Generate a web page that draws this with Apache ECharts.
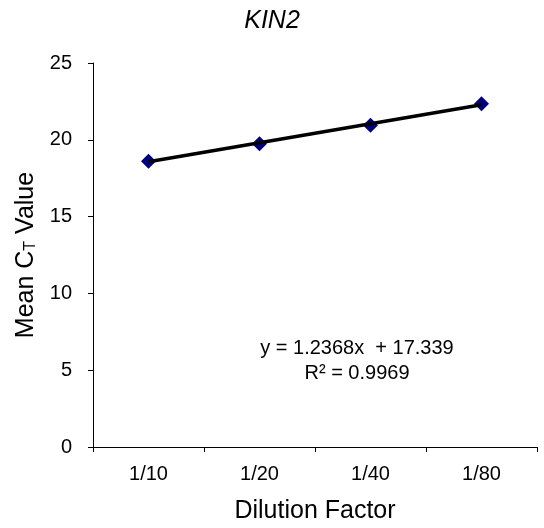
<!DOCTYPE html>
<html><head><meta charset="utf-8">
<script src="https://cdn.jsdelivr.net/npm/echarts@6/dist/echarts.min.js"></script>
<style>html,body{margin:0;padding:0;background:#fff}#c{width:544px;height:528px}</style>
</head><body><div id="c"></div>
<script>
var categories = ['1/10', '1/20', '1/40', '1/80'];
var meanCt = [18.6, 19.75, 20.95, 22.35];
var trendValues = [18.576, 19.813, 21.049, 22.286];
var yTicks = [0, 5, 10, 15, 20, 25];
var equationText = 'y = 1.2368x  + 17.339';
var r2Text = 'R² = 0.9969';

var chart = echarts.init(document.getElementById('c'));
var font = '"Liberation Sans", Arial, sans-serif';
chart.setOption({
  animation: false,
  textStyle: { fontFamily: font },
  title: {
    text: 'KIN2', left: 'center', top: 4,
    textStyle: { fontFamily: font, fontStyle: 'italic', fontWeight: 'normal', fontSize: 25, color: '#000' }
  },
  grid: { left: 93, right: 7, top: 63, bottom: 81, containLabel: false, outerBoundsMode: 'none' },
  xAxis: {
    type: 'category', data: categories, boundaryGap: true,
    name: 'Dilution Factor', nameLocation: 'middle', nameGap: 52,
    nameTextStyle: { fontFamily: font, fontSize: 25, color: '#000' },
    axisLine: { lineStyle: { color: '#000', width: 1 } },
    axisTick: { show: true, length: 5, inside: false, lineStyle: { color: '#000' } },
    axisLabel: { fontFamily: font, fontSize: 20, color: '#000', margin: 17 }
  },
  yAxis: {
    type: 'value', min: yTicks[0], max: yTicks[yTicks.length - 1], interval: 5,
    name: 'Mean C{sub|T} Value', nameLocation: 'middle', nameGap: 52,
    nameTextStyle: {
      fontFamily: font, fontSize: 25, color: '#000',
      rich: { sub: { fontFamily: font, fontSize: 16, color: '#000', padding: [10, 0, 0, 0] } }
    },
    splitLine: { show: false },
    axisLine: { show: true, lineStyle: { color: '#000', width: 1 } },
    axisTick: { show: true, length: 5, lineStyle: { color: '#000' } },
    axisLabel: { fontFamily: font, fontSize: 20, color: '#000', margin: 21 }
  },
  graphic: [{
    type: 'text', x: 357, y: 336,
    style: { text: equationText + '\n' + r2Text, fontFamily: font, fontSize: 20, lineHeight: 25, fill: '#000', align: 'center' }
  }],
  series: [{
    type: 'line', data: meanCt, symbol: 'diamond', symbolSize: 15,
    lineStyle: { width: 0 }, itemStyle: { color: '#000080' }, z: 2
  }, {
    type: 'line', data: trendValues, symbol: 'none',
    lineStyle: { color: '#000', width: 3.5 }, z: 3
  }]
});
</script></body></html>
